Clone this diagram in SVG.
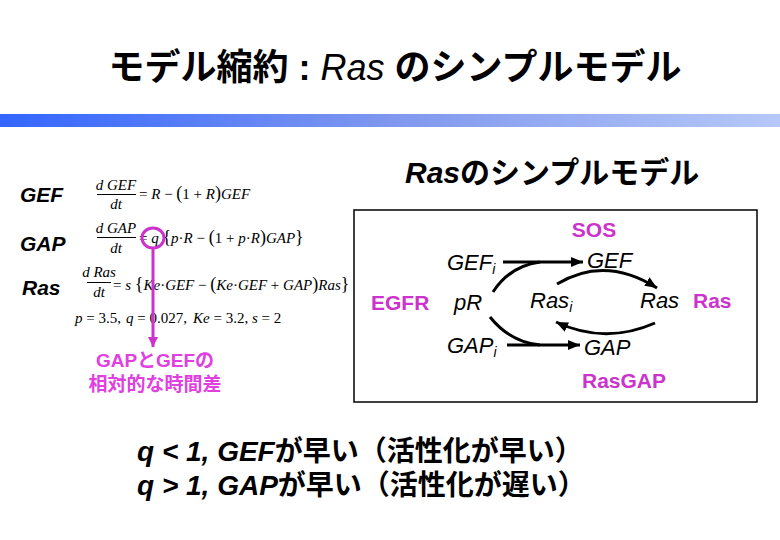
<svg xmlns="http://www.w3.org/2000/svg" width="780" height="540" viewBox="0 0 780 540">
<defs>
<linearGradient id="bar" x1="0" y1="0" x2="1" y2="0">
<stop offset="0" stop-color="#3366ff"/>
<stop offset="0.5" stop-color="#7f97ee"/>
<stop offset="1" stop-color="#b6c8f8"/>
</linearGradient>
<marker id="ah" markerUnits="userSpaceOnUse" markerWidth="14" markerHeight="12" refX="12" refY="5" orient="auto">
<path d="M0,0 L12,5 L0,10 Z" fill="#000"/>
</marker>
<marker id="mh" markerUnits="userSpaceOnUse" markerWidth="12" markerHeight="12" refX="10" refY="5" orient="auto">
<path d="M0,0 L10,5 L0,10 Z" fill="#cc33cc"/>
</marker>
<style>
.t{font-family:"Liberation Sans","Noto Sans CJK JP",sans-serif;font-weight:bold;fill:#000}
.it{font-style:italic}
.nb{font-weight:normal}
.lab{font-family:"Liberation Sans",sans-serif;font-weight:bold;font-style:italic;font-size:21px;fill:#000}
.m{font-family:"Liberation Serif",serif;font-size:15px;fill:#000}
.i{font-style:italic}
.p{font-size:18px}
.d{font-family:"Liberation Sans",sans-serif;font-style:italic;font-size:22px;fill:#000}
.sub{font-size:14px}
.mg{font-family:"Liberation Sans","Noto Sans CJK JP",sans-serif;font-weight:bold;font-size:21px;fill:#cc33cc}
.mj{font-family:"Liberation Sans","Noto Sans CJK JP",sans-serif;font-weight:bold;font-size:19px;fill:#e040e0}
.frac{stroke:#000;stroke-width:1}
.con{fill:none;stroke:#000;stroke-width:3}
</style>
</defs>
<rect width="780" height="540" fill="#fff"/>
<g id="title">
<text class="t" x="395" y="80" font-size="36" text-anchor="middle">モデル縮約 : <tspan class="it nb">Ras</tspan> のシンプルモデル</text>
</g>
<rect id="bar-band" x="0" y="114" width="780" height="13" fill="url(#bar)"/>
<g id="subtitle">
<text class="t" x="405" y="183" font-size="30"><tspan class="it">Ras</tspan>のシンプルモデル</text>
</g>
<g id="labels">
<text class="lab" x="20" y="202">GEF</text>
<text class="lab" x="20" y="251">GAP</text>
<text class="lab" x="22" y="295">Ras</text>
</g>
<g id="equations">
<text class="m i" x="116" y="190" text-anchor="middle">d GEF</text>
<line class="frac" x1="97" y1="194.5" x2="136" y2="194.5"/>
<text class="m i" x="116" y="209" text-anchor="middle">dt</text>
<text class="m" x="139" y="199">= <tspan class="i">R</tspan> − <tspan class="p">(</tspan>1 + <tspan class="i">R</tspan><tspan class="p">)</tspan><tspan class="i">GEF</tspan></text>
<text class="m i" x="116" y="233" text-anchor="middle">d GAP</text>
<line class="frac" x1="97" y1="237.5" x2="136" y2="237.5"/>
<text class="m i" x="116" y="253" text-anchor="middle">dt</text>
<text class="m" x="139" y="243">= <tspan class="i">q</tspan> <tspan class="p">{</tspan><tspan class="i">p</tspan>·<tspan class="i">R</tspan> − <tspan class="p">(</tspan>1 + <tspan class="i">p</tspan>·<tspan class="i">R</tspan><tspan class="p">)</tspan><tspan class="i">GAP</tspan><tspan class="p">}</tspan></text>
<text class="m i" x="99" y="277" text-anchor="middle">d Ras</text>
<line class="frac" x1="87" y1="282.5" x2="111" y2="282.5"/>
<text class="m i" x="99" y="297" text-anchor="middle">dt</text>
<text class="m" x="113" y="290">= <tspan class="i">s</tspan> <tspan class="p">{</tspan><tspan class="i">Ke</tspan>·<tspan class="i">GEF</tspan> − <tspan class="p">(</tspan><tspan class="i">Ke</tspan>·<tspan class="i">GEF</tspan> + <tspan class="i">GAP</tspan><tspan class="p">)</tspan><tspan class="i">Ras</tspan><tspan class="p">}</tspan></text>
<text class="m" x="75" y="323"><tspan class="i">p</tspan> = 3.5,</text>
<text class="m" x="126" y="323"><tspan class="i">q</tspan> = 0.027,</text>
<text class="m" x="193" y="323"><tspan class="i">Ke</tspan> = 3.2,</text>
<text class="m" x="252" y="323"><tspan class="i">s</tspan> = 2</text>
</g>
<g id="highlight">
<ellipse cx="153" cy="238" rx="11" ry="10" fill="none" stroke="#cc33cc" stroke-width="3"/>
<line x1="153" y1="248" x2="153" y2="347" stroke="#cc33cc" stroke-width="3" marker-end="url(#mh)"/>
</g>
<g id="note">
<text class="mj" x="155" y="367" text-anchor="middle">GAPとGEFの</text>
<text class="mj" x="155" y="391" text-anchor="middle">相対的な時間差</text>
</g>
<rect id="model-box" x="354" y="210" width="403" height="192" fill="none" stroke="#000" stroke-width="1.5"/>
<g id="connectors">
<line class="con" x1="503" y1="262" x2="583" y2="262" marker-end="url(#ah)"/>
<path class="con" d="M493,292 Q510,266 540,262"/>
<line class="con" x1="507" y1="345" x2="580" y2="345" marker-end="url(#ah)"/>
<path class="con" d="M490,317 Q510,342 540,345"/>
<path class="con" d="M557,284 Q605,255 657,288" marker-end="url(#ah)"/>
<path class="con" d="M655,323 Q605,345 556,322" marker-end="url(#ah)"/>
</g>
<g id="n-sos"><text class="mg" x="594" y="237" text-anchor="middle">SOS</text></g>
<g id="n-gefi"><text class="d" x="447" y="270">GEF<tspan class="sub" dy="4">i</tspan></text></g>
<g id="n-gef"><text class="d" x="587" y="268">GEF</text></g>
<g id="n-egfr"><text class="mg" x="371" y="310">EGFR</text></g>
<g id="n-pr"><text class="d" x="454" y="310">pR</text></g>
<g id="n-rasi"><text class="d" x="530" y="308">Ras<tspan class="sub" dy="4">i</tspan></text></g>
<g id="n-ras"><text class="d" x="640" y="308">Ras</text></g>
<g id="n-ras2"><text class="mg" x="693" y="308">Ras</text></g>
<g id="n-gapi"><text class="d" x="447" y="353">GAP<tspan class="sub" dy="4">i</tspan></text></g>
<g id="n-gap"><text class="d" x="584" y="355">GAP</text></g>
<g id="n-rasgap"><text class="mg" x="582" y="388">RasGAP</text></g>
<g id="bottom">
<text class="t" x="137" y="461" font-size="28"><tspan class="it">q &lt; 1, GEF</tspan>が早い（活性化が早い）</text>
<text class="t" x="137" y="495" font-size="28"><tspan class="it">q &gt; 1, GAP</tspan>が早い（活性化が遅い）</text>
</g>
</svg>
